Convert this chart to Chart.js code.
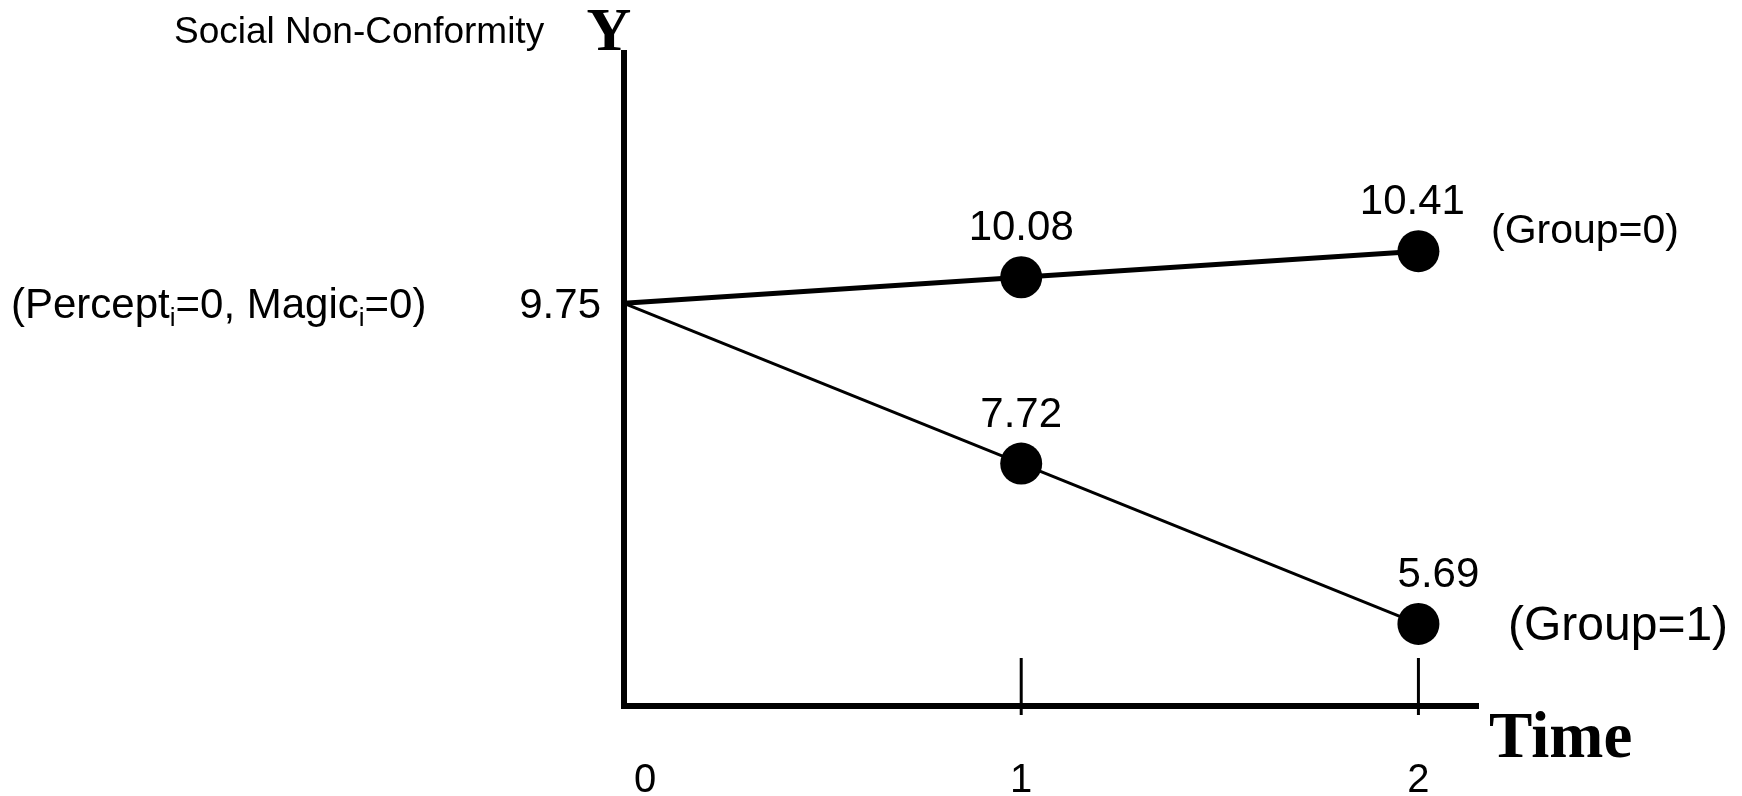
<!DOCTYPE html>
<html>
<head>
<meta charset="utf-8">
<script src="https://cdn.jsdelivr.net/npm/chart.js@4.4.1/dist/chart.umd.min.js"></script>
<style>
  html, body { margin: 0; padding: 0; background: #ffffff; }
  #wrap { width: 1742px; height: 796px; position: relative; }
</style>
</head>
<body>
<div id="wrap"><canvas id="c" width="1742" height="796"></canvas></div>
<script>
// ---- data ----
const timePoints = [0, 1, 2];
const timeTickLabels = ['0', '1', '2'];
const group0Values = [9.75, 10.08, 10.41];
const group1Values = [9.75, 7.72, 5.69];
const group0ValueLabels = ['9.75', '10.08', '10.41'];
const group1ValueLabels = ['9.75', '7.72', '5.69'];
const seriesNames = ['(Group=0)', '(Group=1)'];
const yAxisName = 'Y';
const yAxisDescription = 'Social Non-Conformity';
const xAxisName = 'Time';
const interceptNote = [['(Percept', false], ['i', true], ['=0, Magic', false], ['i', true], ['=0)', false]];

const SANS = '"Liberation Sans", Arial, Helvetica, sans-serif';
const SERIF = '"Liberation Serif", "Times New Roman", Times, serif';

function toPoints(xs, ys) { return xs.map((t, i) => ({ x: t, y: ys[i] })); }

const annotate = {
  id: 'annotate',
  afterDatasetsDraw(chart) {
    const { ctx, chartArea: ca, scales: { x, y } } = chart;
    ctx.save();
    ctx.fillStyle = '#000';
    ctx.strokeStyle = '#000';

    // tick marks on the time axis (time 0 is the Y axis itself)
    ctx.lineWidth = 3;
    timePoints.forEach((t, i) => {
      if (i === 0) return;
      const px = x.getPixelForValue(t);
      ctx.beginPath();
      ctx.moveTo(px, ca.bottom - 48);
      ctx.lineTo(px, ca.bottom + 9);
      ctx.stroke();
    });

    // time tick labels
    ctx.font = '40px ' + SANS;
    ctx.textBaseline = 'alphabetic';
    timePoints.forEach((t, i) => {
      const px = x.getPixelForValue(t);
      if (i === 0) { ctx.textAlign = 'left'; ctx.fillText(timeTickLabels[i], px + 10, ca.bottom + 86); }
      else { ctx.textAlign = 'center'; ctx.fillText(timeTickLabels[i], px, ca.bottom + 86); }
    });

    // value labels above the points
    ctx.font = '42px ' + SANS;
    ctx.textAlign = 'center';
    const shifts = [[0, 0, -6], [0, 0, 20]];
    [[group0Values, group0ValueLabels], [group1Values, group1ValueLabels]].forEach(([vals, labs], s) => {
      vals.forEach((v, i) => {
        if (i === 0) return;
        const px = x.getPixelForValue(timePoints[i]);
        const py = y.getPixelForValue(v);
        ctx.fillText(labs[i], px + shifts[s][i], py - 37);
      });
    });

    // intercept label
    const x0 = x.getPixelForValue(timePoints[0]);
    const y0 = y.getPixelForValue(group0Values[0]);
    ctx.textAlign = 'right';
    ctx.fillText(group0ValueLabels[0], x0 - 23, y0 + 15);

    // (Percept_i=0, Magic_i=0)
    ctx.textAlign = 'left';
    let cx = 11;
    interceptNote.forEach(([txt, sub]) => {
      ctx.font = (sub ? '26px ' : '42px ') + SANS;
      ctx.fillText(txt, cx, y0 + 15 + (sub ? 8 : 0));
      cx += ctx.measureText(txt).width;
    });

    // series names at the right ends
    ctx.textAlign = 'left';
    const yEnd0 = y.getPixelForValue(group0Values[2]);
    const yEnd1 = y.getPixelForValue(group1Values[2]);
    ctx.font = '41px ' + SANS;
    ctx.fillText(seriesNames[0], ca.right + 13, yEnd0 - 8);
    ctx.font = '48px ' + SANS;
    ctx.fillText(seriesNames[1], ca.right + 30, yEnd1 + 16);

    // axis names
    ctx.font = 'bold 62px ' + SERIF;
    ctx.textAlign = 'center';
    ctx.fillText(yAxisName, ca.left - 15, ca.top - 3);
    ctx.font = 'bold 65px ' + SERIF;
    ctx.textAlign = 'left';
    ctx.fillText(xAxisName, ca.right + 11, ca.bottom + 51);

    ctx.font = '37px ' + SANS;
    ctx.textAlign = 'left';
    ctx.fillText(yAxisDescription, 174, 43);

    ctx.restore();
  }
};

new Chart(document.getElementById('c'), {
  type: 'line',
  data: {
    datasets: [
      {
        label: seriesNames[0],
        data: toPoints(timePoints, group0Values),
        borderColor: '#000',
        backgroundColor: '#000',
        borderWidth: 5,
        pointRadius: [0, 21, 21],
        pointBackgroundColor: '#000',
        pointBorderWidth: 0,
        pointHoverRadius: [0, 21, 21],
        tension: 0,
        fill: false
      },
      {
        label: seriesNames[1],
        data: toPoints(timePoints, group1Values),
        borderColor: '#000',
        backgroundColor: '#000',
        borderWidth: 3,
        pointRadius: [0, 21, 21],
        pointBackgroundColor: '#000',
        pointBorderWidth: 0,
        pointHoverRadius: [0, 21, 21],
        tension: 0,
        fill: false
      }
    ]
  },
  options: {
    responsive: false,
    animation: false,
    devicePixelRatio: 1,
    clip: false,
    layout: { padding: { left: 616, right: 264, top: 53, bottom: 82 } },
    plugins: { legend: { display: false }, tooltip: { enabled: false }, title: { display: false } },
    events: [],
    scales: {
      x: {
        type: 'linear',
        min: 0,
        max: 2.15,
        grid: { display: false },
        ticks: { display: false },
        border: { display: true, color: '#000', width: 6 }
      },
      y: {
        type: 'linear',
        min: 4.65,
        max: 12.92,
        grid: { display: false },
        ticks: { display: false },
        border: { display: true, color: '#000', width: 6 }
      }
    }
  },
  plugins: [annotate]
});
</script>
</body>
</html>
